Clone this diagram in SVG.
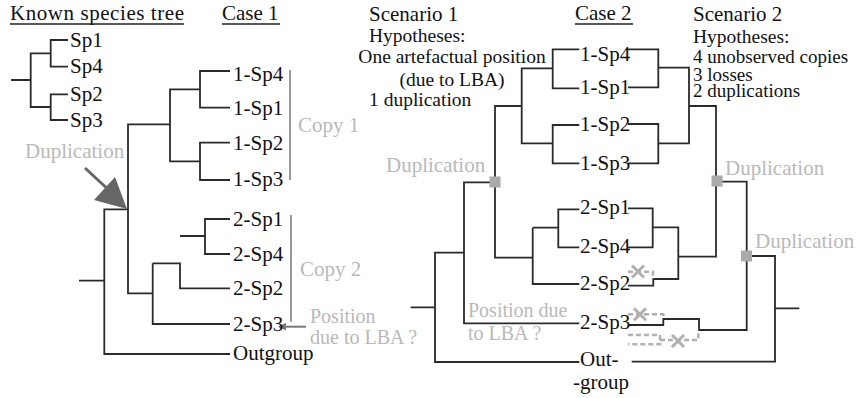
<svg xmlns="http://www.w3.org/2000/svg" width="863" height="398" viewBox="0 0 863 398">
<style>
text{font-family:'Liberation Serif','Times New Roman',serif;font-size:21px;fill:#111}
.hyp{font-size:19.5px}
.hyp2{font-size:19px}
.g{fill:#b9b9b9}
.gs{fill:#b9b9b9;font-size:20px}
.br{fill:none;stroke:#2a2a2a;stroke-width:1.8}
.ul{stroke:#222;stroke-width:1.3}
.bar{stroke:#999;stroke-width:2;fill:none}
.sq{fill:#aaa}
.lost{fill:none;stroke:#b0b0b0;stroke-width:2.5;stroke-dasharray:5 3}
.x{fill:none;stroke:#b0b0b0;stroke-width:3}
</style>
<defs>
<marker id="ah" viewBox="0 0 10 10" refX="9" refY="5" markerWidth="4" markerHeight="4" orient="auto">
<path d="M0,0 L10,5 L0,10 z" fill="#777"/>
</marker>
</defs>

<g id="headers">
<text x="10" y="19.5" textLength="174">Known species tree</text>
<line class="ul" x1="10" y1="24" x2="184" y2="24"/>
<text x="222" y="19.5">Case 1</text>
<line class="ul" x1="222" y1="24" x2="280" y2="24"/>
<text x="575" y="19.5">Case 2</text>
<line class="ul" x1="575" y1="24" x2="633" y2="24"/>
</g>

<g id="scenario1-text">
<text x="369" y="21">Scenario 1</text>
<text class="hyp" x="369" y="42">Hypotheses:</text>
<text class="hyp" x="452" y="63" text-anchor="middle">One artefactual position</text>
<text class="hyp" x="452" y="86" text-anchor="middle">(due to LBA)</text>
<text class="hyp" x="369" y="106">1 duplication</text>
</g>

<g id="scenario2-text">
<text x="693" y="21">Scenario 2</text>
<text class="hyp" x="693" y="43">Hypotheses:</text>
<text class="hyp2" x="693" y="63">4 unobserved copies</text>
<text class="hyp2" x="693" y="80.5">3 losses</text>
<text class="hyp2" x="693" y="97">2 duplications</text>
</g>

<g id="connectors">
<path class="br" d="M11,80 H30.7 M50.7,53.3 H30.7 V107 H50.7 M68,40 H50.7 V66.7 H68 M68,94.3 H50.7 V120 H68"/>
<path class="br" d="M230,71 H200 V107.7 H230 M230,142.7 H200 V180 H230 M200,89.3 H170 V161.3 H200 M170,124.3 H128 V293.3 H152.7"/>
<path class="br" d="M79,280.7 H104.3 M128,209.3 H104.3 V354 H230"/>
<path class="br" d="M152.7,263.3 V324 H230 M152.7,263.3 H180 V288.3 H230 M180,236 H205 M230,219 H205 V254 H230"/>
<path class="br" d="M579.3,49.3 H552.7 V88.3 H579.3 M579.3,125 H552.7 V163.3 H579.3 M552.7,68.3 H521.7 V143.3 H552.7 M521.7,106 H495 V257.7 H532.7"/>
<path class="br" d="M532.7,227.7 V284 H579.3 M532.7,227.7 H558.3 M579.3,209.3 H558.3 V247.3 H579.3"/>
<path class="br" d="M495,182.3 H464 V323.3 H579.3 M464,252.7 H435 V362 H579.3 M410.7,307.3 H435"/>
<path class="br" d="M628,49.3 H658.3 V87.3 H628 M628,124 H658.3 V163.3 H628 M658.3,67.7 H689 V143.3 H658.3 M689,106 H716 V256.7 H678.3"/>
<path class="br" d="M628,208.3 H652.7 V247.3 H628 M652.7,227.3 H678.3 V279 H653.3 V285.7 H628"/>
<path class="br" d="M716,181.7 H746.7 V330 H699 V319 H663.3 V325 H628"/>
<path class="br" d="M746.7,256 H775 V361.7 H631.7 M775,308.3 H799.3"/>
<path class="lost" d="M628,271.7 H653 V279"/>
<path class="x" d="M632,265.5 L644,277.5 M644,265.5 L632,277.5"/>
<path class="lost" d="M628,314.3 H663.3 V319"/>
<path class="x" d="M634,308.3 L646,320.3 M646,308.3 L634,320.3"/>
<path class="lost" d="M628,335 H660 V344.3 H628 M660,340 H698.3 V330"/>
<path class="x" d="M672,335 L684,347 M684,335 L672,347"/>
<path class="bar" d="M290,70 V180 M291,215 V321.7"/>
<path d="M85,168 L112,193" stroke="#666" stroke-width="3" fill="none"/>
<polygon points="127,209 94,200 115,177" fill="#666"/>
<path d="M306,326.7 H279" stroke="#777" stroke-width="2" fill="none" marker-end="url(#ah)"/>
</g>

<g id="dup-nodes">
<rect class="sq" x="489.5" y="176.5" width="11" height="11"/>
<rect class="sq" x="711.5" y="175.5" width="11" height="11"/>
<rect class="sq" x="741" y="250.5" width="11" height="11"/>
</g>

<g id="species-known">
<text x="70" y="47">Sp1</text>
<text x="70" y="73">Sp4</text>
<text x="70" y="101">Sp2</text>
<text x="70" y="127">Sp3</text>
</g>

<g id="case1-labels">
<text x="233" y="81">1-Sp4</text>
<text x="233" y="115">1-Sp1</text>
<text x="233" y="150">1-Sp2</text>
<text x="233" y="186">1-Sp3</text>
<text x="233" y="226">2-Sp1</text>
<text x="233" y="261">2-Sp4</text>
<text x="233" y="295">2-Sp2</text>
<text x="233" y="331">2-Sp3</text>
<text x="233" y="360">Outgroup</text>
<text class="g" x="298" y="132">Copy 1</text>
<text class="g" x="300" y="276">Copy 2</text>
<text class="gs" x="310" y="323">Position</text>
<text class="gs" x="310" y="344">due to LBA ?</text>
<text class="g" x="25" y="158">Duplication</text>
</g>

<g id="case2-labels">
<text x="580" y="61">1-Sp4</text>
<text x="580" y="94">1-Sp1</text>
<text x="580" y="131">1-Sp2</text>
<text x="580" y="170">1-Sp3</text>
<text x="580" y="214">2-Sp1</text>
<text x="580" y="253">2-Sp4</text>
<text x="580" y="290">2-Sp2</text>
<text x="580" y="329">2-Sp3</text>
<text x="580" y="366">Out-</text>
<text x="573" y="389">-group</text>
<text class="g" x="386" y="172">Duplication</text>
<text class="g" x="725" y="175">Duplication</text>
<text class="g" x="755" y="248">Duplication</text>
<text class="gs" x="468" y="317">Position due</text>
<text class="gs" x="468" y="340">to LBA ?</text>
</g>
</svg>
